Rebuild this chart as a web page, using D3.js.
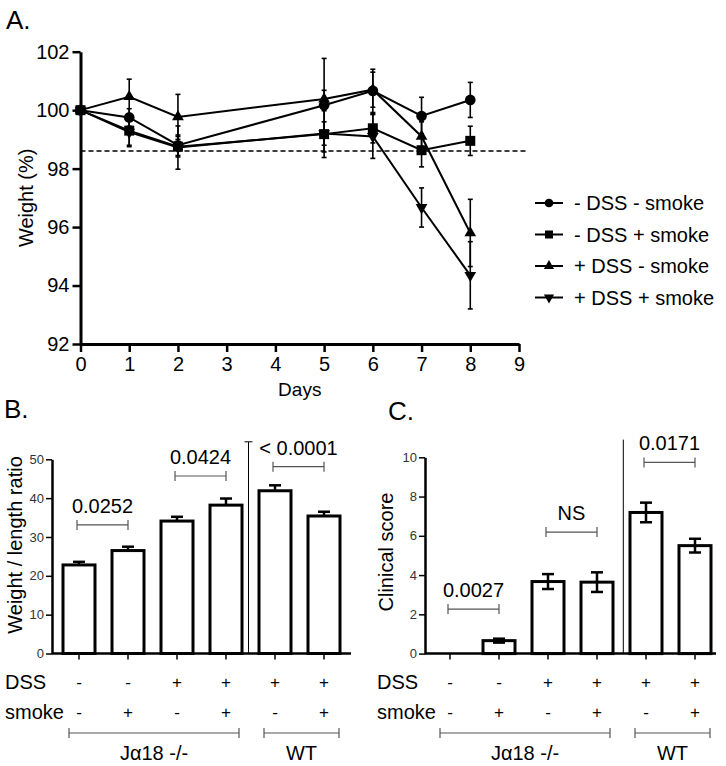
<!DOCTYPE html>
<html><head><meta charset="utf-8">
<script src="https://cdn.jsdelivr.net/npm/d3@7"></script>
<style>body{margin:0;background:#fff}svg text{font-family:"Liberation Sans",Arial,Helvetica,sans-serif}</style>
</head><body><svg id="c" width="726" height="766"></svg>
<script>
// ---------- Panel A data ----------
const days = [0, 1, 2, 5, 6, 7, 8];
const xTicksA = [0,1,2,3,4,5,6,7,8,9];
const yTicksA = [92,94,96,98,100,102];
const seriesNames = ["- DSS - smoke", "- DSS + smoke", "+ DSS - smoke", "+ DSS + smoke"];
const seriesSymbols = ["circle", "square", "up", "down"];
const wCircle    = [100, 99.75, 98.80, 100.17, 100.66, 99.80, 100.35];
const wCircleErr = [0,   0.30,  0.35,  1.60,   0.74,   0.64,  0.60];
const wSquare    = [100, 99.30, 98.75, 99.18, 99.38, 98.63, 98.95];
const wSquareErr = [0,   0.55,  0.35,  0.80,  0.50,  0.57,  0.50];
const wUp        = [100, 100.46, 99.77, 100.38, 100.70, 99.10, 95.80];
const wUpErr     = [0,   0.60,   0.77,  0.30,   0.60,   0.50,  1.15];
const wDown      = [100, 99.25, 98.72, 99.20, 99.10, 96.67, 94.35];
const wDownErr   = [0,   0.45,  0.74,  0.40,  0.75,  0.67,  1.15];
const thresholdA = 98.6;

// ---------- Panels B & C data ----------
const groups = ["g1","g2","g3","g4","g5","g6"];
const dssSigns   = ["-","-","+","+","+","+"];
const smokeSigns = ["-","+","-","+","-","+"];
const ratioMean = [22.8, 26.5, 34.1, 38.2, 41.9, 35.4];
const ratioErr  = [0.8, 1.0, 1.1, 1.7, 1.4, 1.1];
const yTicksB = [0,10,20,30,40,50];
const scoreMean = [0, 0.66, 3.67, 3.64, 7.19, 5.50];
const scoreErr  = [0, 0.10, 0.38, 0.50, 0.50, 0.35];
const yTicksC = [0,2,4,6,8,10];
const sigB = [{a:0,b:1,v:33.1,t:"0.0252"},{a:2,b:3,v:45.7,t:"0.0424"},{a:4,b:5,v:48.1,t:"< 0.0001"}];
const sigC = [{a:0,b:1,v:2.27,t:"0.0027"},{a:2,b:3,v:6.19,t:"NS"},{a:4,b:5,v:9.74,t:"0.0171"}];
const groupLabels = ["J\u03b118 -/-", "WT"];

const svg = d3.select("#c");
const FONT = '"Liberation Sans",Arial,sans-serif';

// ================= Panel A =================
(function(){
  const x = d3.scaleLinear().domain([0,9]).range([80.5,519]);
  const y = d3.scaleLinear().domain([92,102]).range([344,51.7]);
  const g = svg.append("g");
  g.append("text").attr("x",6).attr("y",29).attr("font-size",26).text("A.");

  g.append("line").attr("x1",x(0)).attr("x2",526).attr("y1",y(thresholdA)).attr("y2",y(thresholdA))
    .attr("stroke","#000").attr("stroke-width",1.5).attr("stroke-dasharray","5,3");

  const series = [
    {vals:wCircle, err:wCircleErr},
    {vals:wSquare, err:wSquareErr},
    {vals:wUp, err:wUpErr},
    {vals:wDown, err:wDownErr}
  ];
  const line = d3.line().x((d,i)=>x(days[i])).y(d=>y(d));
  const symMap = {circle:d3.symbolCircle, square:d3.symbolSquare, up:d3.symbolTriangle, down:d3.symbolTriangle};
  const symSize = {circle:90, square:100, up:60, down:60};

  series.forEach(s=>{
    s.vals.forEach((v,i)=>{
      const e=s.err[i]; if(!e) return;
      const cx=x(days[i]);
      g.append("line").attr("x1",cx).attr("x2",cx).attr("y1",y(v-e)).attr("y2",y(v+e)).attr("stroke","#000").attr("stroke-width",1.6);
      [v-e,v+e].forEach(w=>g.append("line").attr("x1",cx-2.5).attr("x2",cx+2.5).attr("y1",y(w)).attr("y2",y(w)).attr("stroke","#000").attr("stroke-width",1.6));
    });
  });
  series.forEach(s=>{
    g.append("path").attr("d",line(s.vals)).attr("fill","none").attr("stroke","#000").attr("stroke-width",2);
  });
  series.forEach((s,k)=>{
    const sym=seriesSymbols[k];
    s.vals.forEach((v,i)=>{
      g.append("path").attr("d",d3.symbol(symMap[sym],symSize[sym])())
        .attr("transform",`translate(${x(days[i])},${y(v)})${sym==="down"?" rotate(180)":""}`)
        .attr("fill","#000");
    });
  });

  const ax = g.append("g").attr("transform",`translate(0,${y(92)})`)
    .call(d3.axisBottom(x).tickValues(xTicksA).tickSize(8).tickSizeOuter(0).tickPadding(5));
  const ay = g.append("g").attr("transform",`translate(${x(0)},0)`)
    .call(d3.axisLeft(y).tickValues(yTicksA).tickSize(8).tickSizeOuter(0).tickPadding(3));
  [ax,ay].forEach(a=>{
    a.select(".domain").attr("stroke-width",3);
    a.selectAll(".tick line").attr("stroke-width",2.5);
    a.selectAll(".tick text").attr("font-size",20).attr("font-family",FONT).attr("fill","#000");
  });
  g.append("text").attr("x",x(4.5)).attr("y",396).attr("text-anchor","middle").attr("font-size",19).text("Days");
  g.append("text").attr("transform",`translate(33,${y(97)}) rotate(-90)`).attr("text-anchor","middle").attr("font-size",20).text("Weight (%)");

  const legY = [203,234.5,266,297.5];
  seriesNames.forEach((n,k)=>{
    const sym=seriesSymbols[k];
    const ly=legY[k];
    g.append("line").attr("x1",535).attr("x2",563).attr("y1",ly).attr("y2",ly).attr("stroke","#000").attr("stroke-width",2);
    g.append("path").attr("d",d3.symbol(symMap[sym],sym==="square"?64:sym==="circle"?60:45)())
      .attr("transform",`translate(549,${ly})${sym==="down"?" rotate(180)":""}`).attr("fill","#000");
    g.append("text").attr("x",574).attr("y",ly+7).attr("font-size",20).text(n);
  });
})();

// ================= Bar panels =================
function barPanel(opt){
  const g = svg.append("g");
  const x = d3.scalePoint().domain(groups).range(opt.xr);
  const y = d3.scaleLinear().domain([0,opt.max]).range([opt.y0,opt.yTop]);
  g.append("text").attr("x",opt.labelX).attr("y",opt.labelY).attr("font-size",26).text(opt.letter);
  const bw = 32;
  const sx = opt.sepX;
  g.append("line").attr("x1",sx).attr("x2",sx).attr("y1",y(opt.sepTop)).attr("y2",y(0)).attr("stroke","#000").attr("stroke-width",1);
  if(opt.sepCap) g.append("line").attr("x1",sx-4).attr("x2",sx+4).attr("y1",y(opt.sepTop)).attr("y2",y(opt.sepTop)).attr("stroke","#000").attr("stroke-width",1);

  groups.forEach((k,i)=>{
    const m=opt.mean[i], e=opt.err[i]; if(!e) return;
    const cx=x(k);
    const lo = opt.both ? m-e : m;
    g.append("line").attr("x1",cx).attr("x2",cx).attr("y1",y(lo)).attr("y2",y(m+e)).attr("stroke","#000").attr("stroke-width",2.5);
    g.append("line").attr("x1",cx-6).attr("x2",cx+6).attr("y1",y(m+e)).attr("y2",y(m+e)).attr("stroke","#000").attr("stroke-width",2.5);
    if(opt.both) g.append("line").attr("x1",cx-6).attr("x2",cx+6).attr("y1",y(m-e)).attr("y2",y(m-e)).attr("stroke","#000").attr("stroke-width",2.5);
  });
  groups.forEach((k,i)=>{
    const m=opt.mean[i];
    if(m<=0) return;
    g.append("rect").attr("x",x(k)-bw/2).attr("y",y(m)).attr("width",bw).attr("height",y(0)-y(m))
      .attr("fill","none").attr("stroke","#000").attr("stroke-width",3);
  });

  const ay = g.append("g").attr("transform",`translate(${opt.axisX},0)`)
    .call(d3.axisLeft(y).tickValues(opt.yTicks).tickSize(6).tickSizeOuter(0).tickPadding(2));
  ay.select(".domain").attr("stroke-width",2.5);
  ay.selectAll(".tick line").attr("stroke-width",1.5);
  ay.selectAll(".tick text").attr("font-size",13).attr("font-family",FONT).attr("fill","#333");
  const ax = g.append("g").attr("transform",`translate(0,${y(0)})`);
  ax.append("line").attr("x1",opt.axisX).attr("x2",opt.axisEnd).attr("y1",0).attr("y2",0).attr("stroke","#000").attr("stroke-width",2.5);
  groups.forEach(k=>ax.append("line").attr("x1",x(k)).attr("x2",x(k)).attr("y1",0).attr("y2",6).attr("stroke","#000").attr("stroke-width",1.5));

  g.append("text").attr("transform",`translate(${opt.yLabX},${opt.yLabY}) rotate(-90)`).attr("text-anchor","middle").attr("font-size",20).text(opt.yLabel);

  opt.sig.forEach(s=>{
    const x1=x(groups[s.a])-2, x2=x(groups[s.b]), yy=y(s.v);
    g.append("line").attr("x1",x1).attr("x2",x2).attr("y1",yy).attr("y2",yy).attr("stroke","#555").attr("stroke-width",1.2);
    [x1,x2].forEach(xx=>g.append("line").attr("x1",xx).attr("x2",xx).attr("y1",yy-5).attr("y2",yy+5).attr("stroke","#555").attr("stroke-width",1.2));
    g.append("text").attr("x",(x1+x2)/2).attr("y",yy-12).attr("text-anchor","middle").attr("font-size",20).text(s.t);
  });

  g.append("text").attr("x",opt.rowLabX).attr("y",opt.dssY+7).attr("font-size",20).text("DSS");
  g.append("text").attr("x",opt.rowLabX).attr("y",opt.smokeY+7).attr("font-size",20).text("smoke");
  groups.forEach((k,i)=>{
    g.append("text").attr("x",x(k)).attr("y",opt.dssY+6).attr("text-anchor","middle").attr("font-size",17).text(dssSigns[i]);
    g.append("text").attr("x",x(k)).attr("y",opt.smokeY+6).attr("text-anchor","middle").attr("font-size",17).text(smokeSigns[i]);
  });
  const spans=[[x(groups[0])-10,x(groups[3])+13],[x(groups[4])-11,x(groups[5])+15]];
  spans.forEach((sp,j)=>{
    g.append("line").attr("x1",sp[0]).attr("x2",sp[1]).attr("y1",opt.brY).attr("y2",opt.brY).attr("stroke","#555").attr("stroke-width",1.2);
    sp.forEach(xx=>g.append("line").attr("x1",xx).attr("x2",xx).attr("y1",opt.brY-5).attr("y2",opt.brY+5).attr("stroke","#555").attr("stroke-width",1.2));
    g.append("text").attr("x",(sp[0]+sp[1])/2).attr("y",opt.brY+27).attr("text-anchor","middle").attr("font-size",20).text(groupLabels[j]);
  });
}

barPanel({letter:"B.",labelX:4,labelY:418,xr:[79,324],max:50,y0:653.5,yTop:459.3,mean:ratioMean,err:ratioErr,both:false,
  yTicks:yTicksB,axisX:52,axisEnd:351,sepX:248.5,sepTop:54.5,sepCap:true,yLabel:"Weight / length ratio",yLabX:22,yLabY:545,
  sig:sigB,rowLabX:5,dssY:682,smokeY:712,brY:733});
barPanel({letter:"C.",labelX:388,labelY:420,xr:[450,695],max:10,y0:653.6,yTop:457.3,mean:scoreMean,err:scoreErr,both:true,
  yTicks:yTicksC,axisX:425,axisEnd:716,sepX:623.3,sepTop:10.9,sepCap:false,yLabel:"Clinical score",yLabX:393,yLabY:552,
  sig:sigC,rowLabX:377,dssY:682,smokeY:712,brY:733});
</script></body></html>
